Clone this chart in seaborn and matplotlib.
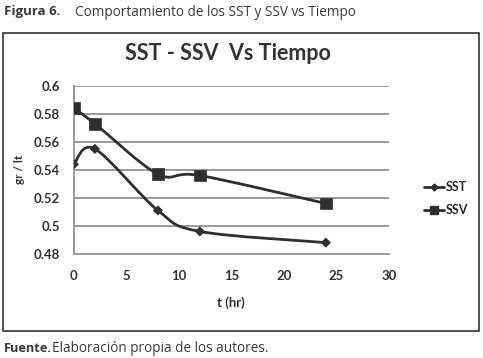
import numpy as np
import pandas as pd
import matplotlib
matplotlib.use("Agg")
import matplotlib.pyplot as plt
from matplotlib.path import Path
from matplotlib.patches import PathPatch, Rectangle
from matplotlib.lines import Line2D
import seaborn as sns

# datos
tiempo = [0, 2, 8, 12, 24]
sst = [0.544, 0.555, 0.511, 0.496, 0.488]
ssv = [0.584, 0.573, 0.537, 0.536, 0.516]
x_ticks = [0, 5, 10, 15, 20, 25, 30]
y_ticks = [0.48, 0.50, 0.52, 0.54, 0.56, 0.58, 0.60]
y_labels = ["0.48", "0.5", "0.52", "0.54", "0.56", "0.58", "0.6"]

sns.set_theme(style="white")
plt.rcParams['font.family'] = ['Lato', 'DejaVu Sans']

LINE = "#2f2f2f"
TXT = "#333333"
CAP = ['Open Sans', 'DejaVu Sans']


def suavizado(x, y):
    # curva suave tipo Excel (Catmull-Rom -> Bezier)
    x = np.asarray(x, float)
    y = np.asarray(y, float)
    verts = [(x[0], y[0])]
    codes = [Path.MOVETO]
    n = len(x)
    for i in range(n - 1):
        p0 = (x[max(i - 1, 0)], y[max(i - 1, 0)])
        p1 = (x[i], y[i])
        p2 = (x[i + 1], y[i + 1])
        p3 = (x[min(i + 2, n - 1)], y[min(i + 2, n - 1)])
        c1 = (p1[0] + (p2[0] - p0[0]) / 6, p1[1] + (p2[1] - p0[1]) / 6)
        c2 = (p2[0] - (p3[0] - p1[0]) / 6, p2[1] - (p3[1] - p1[1]) / 6)
        verts += [c1, c2, p2]
        codes += [Path.CURVE4] * 3
    return Path(verts, codes)


df = pd.DataFrame({"t": tiempo * 2,
                   "valor": sst + ssv,
                   "serie": ["SST"] * len(tiempo) + ["SSV"] * len(tiempo)})

fig = plt.figure(figsize=(4.83, 3.58), dpi=100)
ax = fig.add_axes([0.153, 0.291, 0.652, 0.469])

for serie, ys in [("SST", sst), ("SSV", ssv)]:
    ax.add_patch(PathPatch(suavizado(tiempo, ys), facecolor="none",
                           edgecolor=LINE, lw=2, zorder=3))

sns.scatterplot(data=df, x="t", y="valor", style="serie",
                markers={"SST": "D", "SSV": "s"}, size="serie",
                sizes={"SST": 22, "SSV": 70}, color=LINE,
                edgecolor=LINE, linewidth=0.5, legend=False, ax=ax, zorder=4)

ax.set_xlim(0, 30)
ax.set_ylim(0.48, 0.60)
ax.set_xticks(x_ticks)
ax.set_yticks(y_ticks)
ax.set_yticklabels(y_labels)
ax.grid(axis="y", color="#9a9a9a", lw=1.4)
ax.grid(axis="x", visible=False)
for s in ["top", "right"]:
    ax.spines[s].set_visible(False)
ax.spines["left"].set_color("#9a9a9a")
ax.spines["bottom"].set_color("#9a9a9a")
ax.spines["left"].set_linewidth(1.4)
ax.spines["bottom"].set_linewidth(1.4)
ax.tick_params(axis="both", length=0, labelsize=9.5, labelcolor=TXT)
ax.tick_params(axis="x", pad=12)
ax.tick_params(axis="y", pad=10)
for lab in ax.get_xticklabels() + ax.get_yticklabels():
    lab.set_fontweight("bold")
ax.set_xlabel("t (hr)", fontsize=9.5, fontweight="bold", color=TXT, labelpad=10)
ax.set_ylabel("gr / lt", fontsize=8.5, fontweight="bold", color=TXT, labelpad=6)
ax.set_facecolor("white")

handles = [Line2D([], [], color=LINE, lw=2, marker="D", markersize=3.5, label="SST"),
           Line2D([], [], color=LINE, lw=2, marker="s", markersize=6, label="SSV")]
fig.legend(handles=handles, loc="center left", bbox_to_anchor=(0.855, 0.445),
           frameon=False, handlelength=1.6, handletextpad=0.1,
           labelspacing=0.9, prop={"weight": "bold", "size": 9})

# marco exterior
fig.add_artist(Rectangle((3 / 483, 1 - 331 / 358), 476 / 483, 298 / 358,
                         transform=fig.transFigure, fill=False,
                         edgecolor="#222222", lw=1.1))

fig.text(0.472, 1 - 53 / 358, "SST - SSV  Vs Tiempo", ha="center", va="center",
         fontsize=15.5, fontweight="bold", color=TXT)
fig.text(4 / 483, 1 - 12 / 358, "Figura 6.", ha="left", va="center",
         fontsize=9.5, fontweight="bold", color="#3a3a3a", family=CAP)
fig.text(75 / 483, 1 - 12 / 358, "Comportamiento de los SST y SSV vs Tiempo",
         ha="left", va="center", fontsize=9.8, color="#3a3a3a", family=CAP)
fuente = fig.text(4 / 483, 1 - 348 / 358, "Fuente.", ha="left", va="center",
                  fontsize=9.2, fontweight="bold", color="#3a3a3a", family=CAP)
fig.add_artist(plt.Annotation("Elaboración propia de los autores.", xy=(1, 0.5),
                              xycoords=fuente, ha="left", va="center",
                              fontsize=9.8, color="#3a3a3a", family=CAP))

fig.savefig("out.png", dpi=100, facecolor="white")
